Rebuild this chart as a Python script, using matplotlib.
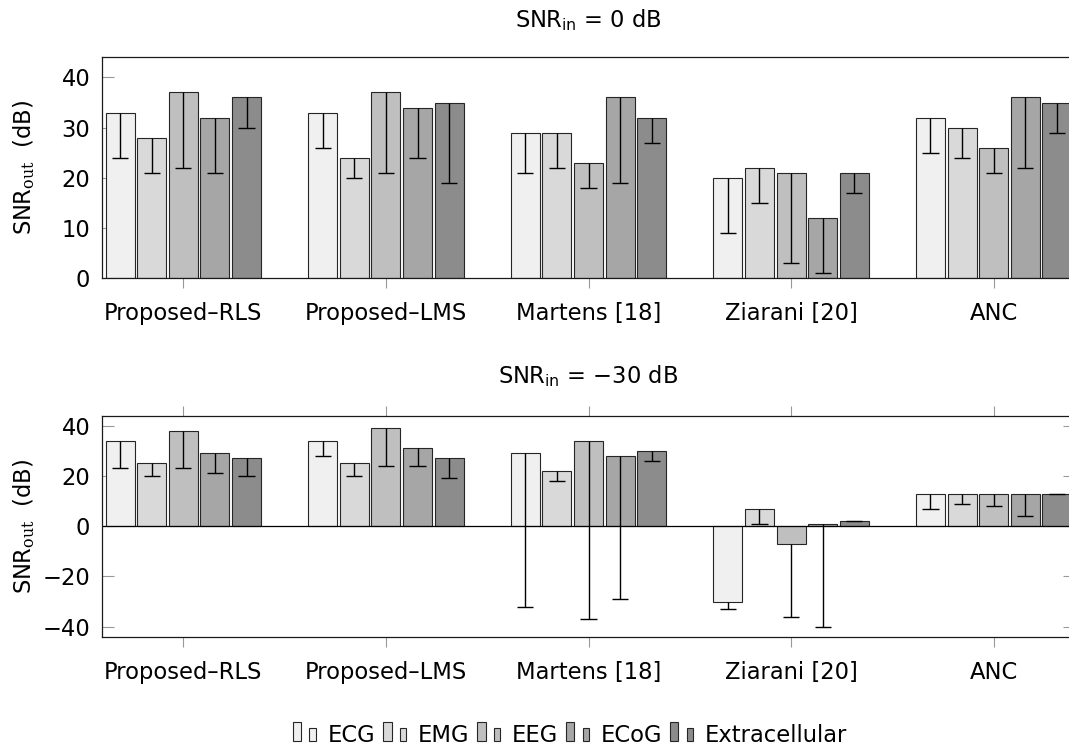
import numpy as np
import matplotlib
matplotlib.use('Agg')
import matplotlib.pyplot as plt
from matplotlib.patches import Rectangle
from matplotlib.legend_handler import HandlerBase

methods = ['Proposed–RLS', 'Proposed–LMS', 'Martens [18]', 'Ziarani [20]', 'ANC']
signals = ['ECG', 'EMG', 'EEG', 'ECoG', 'Extracellular']
shades = ['#f0f0f0', '#d9d9d9', '#bfbfbf', '#a6a6a6', '#8c8c8c']

# SNR_in = 0 dB: output SNR per signal (rows) and method (columns), dB
snr_0 = [[33, 33, 29, 20, 32],
         [28, 24, 29, 22, 30],
         [37, 37, 23, 21, 26],
         [32, 34, 36, 12, 36],
         [36, 35, 32, 21, 35]]
# downward spread below each mean
err_0 = [[9, 7, 8, 11, 7],
         [7, 4, 7, 7, 6],
         [15, 16, 5, 18, 5],
         [11, 10, 17, 11, 14],
         [6, 16, 5, 4, 6]]

# SNR_in = -30 dB
snr_30 = [[34, 34, 29, -30, 13],
          [25, 25, 22, 7, 13],
          [38, 39, 34, -7, 13],
          [29, 31, 28, 1, 13],
          [27, 27, 30, 2, 13]]
err_30 = [[11, 6, 61, 3, 6],
          [5, 5, 4, 6, 4],
          [15, 15, 71, 29, 5],
          [8, 7, 57, 41, 9],
          [7, 8, 4, 0, 0]]

plt.rcParams['font.family'] = 'DejaVu Sans'
plt.rcParams['font.size'] = 16.3
plt.rcParams['mathtext.fontset'] = 'custom'
plt.rcParams['mathtext.rm'] = 'DejaVu Serif'
plt.rcParams['mathtext.sf'] = 'DejaVu Sans'
plt.rcParams['mathtext.it'] = 'DejaVu Sans:italic'

W, H = 1069, 755
fig = plt.figure(figsize=(W / 100, H / 100), dpi=100)

step = 0.156   # distance between neighbouring bars
bw = 0.143     # bar width
cap = 0.04     # half width of error caps
x = np.arange(len(methods))


class PairBars(HandlerBase):
    # pgfplots-style ybar legend image: a tall and a short bar
    def create_artists(self, legend, orig_handle, xdescent, ydescent,
                       width, height, fontsize, trans):
        fc = orig_handle.get_facecolor()
        ec = orig_handle.get_edgecolor()
        y0 = -ydescent + 0.08 * height
        r1 = Rectangle((-xdescent, y0), 0.36 * width, 1.2 * height,
                       fc=fc, ec=ec, lw=0.8, transform=trans)
        r2 = Rectangle((-xdescent + 0.71 * width, y0), 0.29 * width, 0.83 * height,
                       fc=fc, ec=ec, lw=0.8, transform=trans)
        return [r1, r2]


def panel(rect, vals, errs, ylim, yticks, lower):
    ax = fig.add_axes(rect)
    bars = []
    for i in range(len(signals)):
        xs = x + (i - 2) * step
        v = np.array(vals[i])
        e = np.array(errs[i])
        b = ax.bar(xs, v, bw, color=shades[i], edgecolor='0.15', lw=0.8,
                   label=signals[i], zorder=2)
        bars.append(b.patches[0])
        ax.vlines(xs, v - e, v, color='k', lw=1.0, zorder=3)
        ax.hlines(v - e, xs - cap, xs + cap, color='k', lw=1.0, zorder=3)
    ax.set_xlim(-0.4, 4.4)
    ax.set_ylim(*ylim)
    ax.set_yticks(yticks)
    ax.set_xticks(x)
    ax.set_xticklabels(methods)
    ax.tick_params(axis='y', direction='in', length=8.4, width=0.8,
                   color='0.6', pad=8.6, left=True, right=lower)
    ax.tick_params(axis='x', direction='out', length=7.2, width=0.8,
                   color='0.6', pad=10, top=lower)
    for s in ax.spines.values():
        s.set_linewidth(0.9)
        s.set_color('0.1')
    if lower:
        ax.axhline(0, color='k', lw=0.9, zorder=2.5)
    ax.set_ylabel(r'SNR$_{\mathrm{out}}$  (dB)', va='center')
    ax.yaxis.set_label_coords(-0.0805, 0.5)
    return ax, bars


axw = 972.4 / W
axh = 221 / H
ax1, bars = panel([102.3 / W, 1 - 278.3 / H, axw, axh], snr_0, err_0,
                  (0, 44), [0, 10, 20, 30, 40], False)
ax2, _ = panel([102.3 / W, 1 - 636.7 / H, axw, axh], snr_30, err_30,
               (-44, 44), [-40, -20, 0, 20, 40], True)

xc = (102.3 + 1074.7) / 2 / W
fig.text(xc, 1 - 27 / H, r'SNR$_{\mathsf{in}}$ = 0 dB', ha='center', va='baseline')
fig.text(xc, 1 - 383.3 / H, r'SNR$_{\mathsf{in}}$ = −30 dB', ha='center', va='baseline')

fig.legend(bars, signals, loc='center', bbox_to_anchor=(570 / W, 1 - 736 / H),
           ncol=5, frameon=False, handler_map={b: PairBars() for b in bars},
           handlelength=1.03, handletextpad=0.5, columnspacing=0.35,
           borderaxespad=0, borderpad=0)

fig.savefig('out.png', dpi=100)
